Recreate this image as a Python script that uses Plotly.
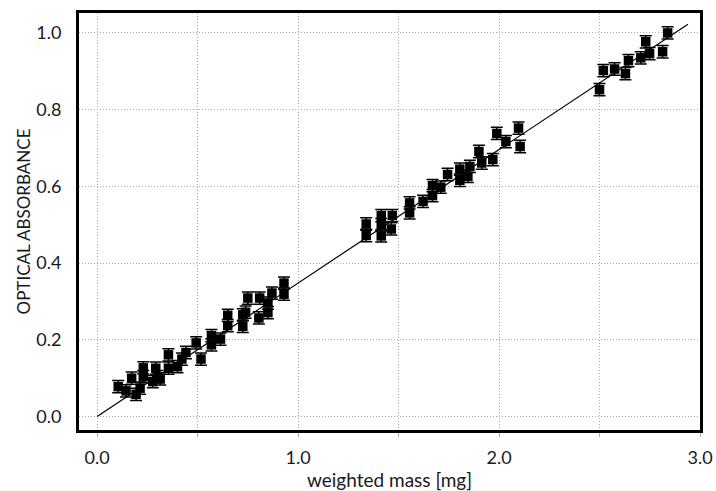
import plotly.graph_objects as go

mass = [0.105, 0.144, 0.172, 0.194, 0.214, 0.23, 0.23, 0.277, 0.292, 0.30, 0.314,
        0.355, 0.355, 0.40, 0.422, 0.442, 0.493, 0.517, 0.569, 0.569, 0.614,
        0.65, 0.65, 0.725, 0.725, 0.739, 0.75, 0.805, 0.809, 0.85, 0.85, 0.87,
        0.93, 0.93,
        1.339, 1.339, 1.414, 1.414, 1.414, 1.469, 1.464, 1.555, 1.555, 1.622,
        1.669, 1.669, 1.71, 1.744, 1.805, 1.805, 1.845, 1.855, 1.90, 1.914,
        1.969, 1.989, 2.034, 2.097, 2.105,
        2.50, 2.519, 2.575, 2.629, 2.644, 2.705, 2.73, 2.749, 2.814, 2.839]
absorbance = [0.078, 0.067, 0.100, 0.058, 0.074, 0.127, 0.104, 0.091, 0.126, 0.104, 0.098,
              0.161, 0.126, 0.130, 0.150, 0.167, 0.192, 0.150, 0.211, 0.187, 0.202,
              0.264, 0.237, 0.235, 0.265, 0.272, 0.309, 0.257, 0.309, 0.296, 0.271, 0.322,
              0.348, 0.319,
              0.502, 0.472, 0.524, 0.500, 0.471, 0.524, 0.489, 0.557, 0.531, 0.561,
              0.576, 0.602, 0.598, 0.631, 0.645, 0.616, 0.626, 0.652, 0.691, 0.661,
              0.670, 0.738, 0.717, 0.752, 0.704,
              0.852, 0.902, 0.906, 0.894, 0.928, 0.935, 0.977, 0.946, 0.951, 1.000]
err = [0.016] * len(mass)

fit_x = [0.0, 2.94]
fit_y = [0.0, 1.023]

x_tickvals = [0.0, 0.5, 1.0, 1.5, 2.0, 2.5, 3.0]
x_ticktext = ["0.0", "", "1.0", "", "2.0", "", "3.0"]
y_tickvals = [0.0, 0.2, 0.4, 0.6, 0.8, 1.0]
y_ticktext = ["0.0", "0.2", "0.4", "0.6", "0.8", "1.0"]

FONT = "Lato"
TXT = "#1a1a1a"
GRID = "#a8a8a8"
GDASH = "1px,2px"

fig = go.Figure()
fig.add_trace(go.Scatter(
    x=fit_x, y=fit_y, mode="lines",
    line=dict(color="black", width=1.2), showlegend=False, hoverinfo="skip"))
fig.add_trace(go.Scatter(
    x=mass, y=absorbance, mode="markers",
    marker=dict(symbol="square", size=9.5, color="black"),
    error_y=dict(type="data", array=err, visible=True, color="black",
                 thickness=1.5, width=6),
    showlegend=False))

fig.update_layout(
    width=716, height=491,
    margin=dict(l=79, r=16, t=13, b=61),
    paper_bgcolor="white", plot_bgcolor="white",
    font=dict(family=FONT, size=18, color=TXT),
    xaxis=dict(
        range=[-0.09, 3.0], automargin=False,
        tickvals=x_tickvals, ticktext=x_ticktext,
        showgrid=True, gridcolor=GRID, griddash=GDASH, gridwidth=1,
        zeroline=False,
        showline=True, linecolor="black", linewidth=3, mirror=True,
        ticks="outside", ticklen=4, tickcolor="#aaa", tickwidth=1,
        ticklabelstandoff=5,
        title=dict(text="weighted mass [mg]", standoff=0,
                   font=dict(family=FONT, size=19, color=TXT)),
        tickfont=dict(family=FONT, size=18, color=TXT),
    ),
    yaxis=dict(
        range=[-0.035, 1.052], automargin=False,
        tickvals=y_tickvals, ticktext=y_ticktext,
        showgrid=True, gridcolor=GRID, griddash=GDASH, gridwidth=1,
        zeroline=False,
        showline=True, linecolor="black", linewidth=3, mirror=True,
        ticks="", ticklabelstandoff=11,
        title=dict(text="OPTICAL ABSORBANCE", standoff=2,
                   font=dict(family=FONT, size=17, color=TXT)),
        tickfont=dict(family=FONT, size=18, color=TXT),
    ),
)

fig.write_html("out.html")
